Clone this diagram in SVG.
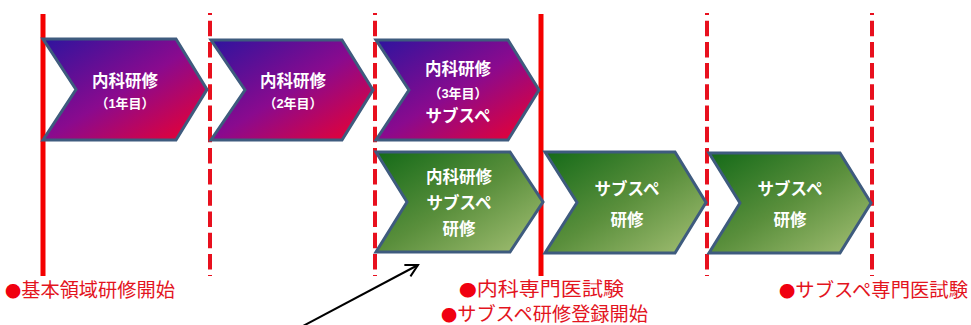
<svg xmlns="http://www.w3.org/2000/svg" width="971" height="325" viewBox="0 0 971 325">
<defs>
<linearGradient id="gPurple" x1="0" y1="0" x2="1" y2="1">
<stop offset="0" stop-color="#2E149E"/>
<stop offset="0.5" stop-color="#8A0A8E"/>
<stop offset="1" stop-color="#F2002A"/>
</linearGradient>
<linearGradient id="gGreen" x1="0" y1="0" x2="1" y2="1">
<stop offset="0" stop-color="#146A18"/>
<stop offset="0.5" stop-color="#5A8F3C"/>
<stop offset="1" stop-color="#A6C176"/>
</linearGradient>
<marker id="arrowOpen" markerUnits="userSpaceOnUse" markerWidth="16" markerHeight="16" refX="13" refY="8" orient="auto">
<path d="M1,1.5 L13,8 L1,14.5" fill="none" stroke="#000" stroke-width="2"/>
</marker>
<style>
.solid{stroke:#F40000;stroke-width:5;fill:none}
.dash{stroke:#E8101E;stroke-width:4;fill:none;stroke-dasharray:15.5 5.7;stroke-dashoffset:13.5}
.chev{stroke:#3E5B7E;stroke-width:3;stroke-linejoin:miter}
.p{fill:url(#gPurple)}
.g{fill:url(#gGreen)}
.t{font-family:'Liberation Sans','Noto Sans CJK JP',sans-serif;font-weight:bold;fill:#FFFFFF;text-anchor:middle}
.big{font-size:16.5px}
.small{font-size:13px}
.lbl{font-family:'Liberation Sans','Noto Sans CJK JP',sans-serif;font-size:19px;fill:#E3141E}
.dot{font-family:'Noto Sans CJK JP',sans-serif;font-size:16px;fill:#F00010}
</style>
</defs>
<rect width="971" height="325" fill="#FFFFFF"/>
<g id="timeline">
<line class="solid" x1="43" y1="14" x2="43" y2="276"/>
<line class="dash" x1="210" y1="13" x2="210" y2="276"/>
<line class="dash" x1="375" y1="13" x2="375" y2="276"/>
<line class="solid" x1="541" y1="14" x2="541" y2="276"/>
<line class="dash" x1="707" y1="13" x2="707" y2="276"/>
<line class="dash" x1="872" y1="13" x2="872" y2="276"/>
</g>
<g id="node-naika1">
<polygon class="chev p" points="43,39 176,39 207,89.5 176,140 43,140 76,89.5"/>
<text class="t big" x="125" y="87">内科研修</text>
<text class="t small" x="125" y="108">（1年目）</text>
</g>
<g id="node-naika2">
<polygon class="chev p" points="211,40 342,40 373,90 342,140 211,140 245,90"/>
<text class="t big" x="293" y="87">内科研修</text>
<text class="t small" x="293" y="108">（2年目）</text>
</g>
<g id="node-naika3">
<polygon class="chev p" points="376,40 508,40 539,90 508,140 376,140 409,90"/>
<text class="t big" x="458" y="75">内科研修</text>
<text class="t small" x="458" y="97.5">（3年目）</text>
<text class="t big" x="458" y="122">サブスペ</text>
</g>
<g id="node-naika-subspe">
<polygon class="chev g" points="376,152 510,152 543,202 510,252 376,252 407,202"/>
<text class="t big" x="459" y="183">内科研修</text>
<text class="t big" x="459" y="209">サブスペ</text>
<text class="t big" x="459" y="235">研修</text>
</g>
<g id="node-subspe1">
<polygon class="chev g" points="545,152 675,152 706,202.5 675,253 545,253 577,202.5"/>
<text class="t big" x="627" y="195">サブスペ</text>
<text class="t big" x="627" y="226">研修</text>
</g>
<g id="node-subspe2">
<polygon class="chev g" points="709,153 840,153 871,203 840,253 709,253 740,203"/>
<text class="t big" x="790" y="195">サブスペ</text>
<text class="t big" x="790" y="226">研修</text>
</g>
<g id="labels">
<text class="lbl" x="5" y="297" textLength="170" lengthAdjust="spacingAndGlyphs"><tspan class="dot">●</tspan>基本領域研修開始</text>
<text class="lbl" x="459" y="296" textLength="165" lengthAdjust="spacingAndGlyphs"><tspan class="dot">●</tspan>内科専門医試験</text>
<text class="lbl" x="441" y="321" textLength="207" lengthAdjust="spacingAndGlyphs"><tspan class="dot">●</tspan>サブスペ研修登録開始</text>
<text class="lbl" x="779" y="297" textLength="189" lengthAdjust="spacingAndGlyphs"><tspan class="dot">●</tspan>サブスペ専門医試験</text>
</g>
<g id="connectors">
<line x1="303" y1="326" x2="418" y2="265" stroke="#000" stroke-width="2" marker-end="url(#arrowOpen)"/>
</g>
</svg>
